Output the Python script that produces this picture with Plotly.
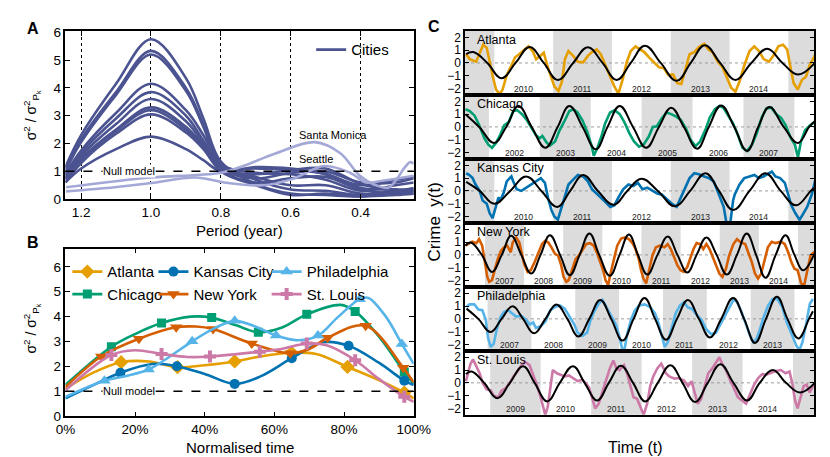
import plotly.graph_objects as go

W, H = 830, 457
FONT = "Liberation Sans, Arial, sans-serif"


def fx(px):
    return px / W


def fy(py):
    return 1 - py / H


# ---------------- Panel A : spectra vs period ----------------
A_PERIOD = [1.245, 1.2, 1.1, 1.0, 0.9, 0.85, 0.8, 0.7, 0.6, 0.5, 0.4, 0.3, 0.248]
A_CITIES = [
    [1.15, 2.3, 4.15, 5.75, 4.35, 2.9, 1.35, 0.55, 0.2, 0.15, 0.1, 0.25, 0.3],
    [1.1, 2.15, 3.85, 5.33, 4.0, 2.7, 1.3, 0.7, 0.35, 0.3, 0.15, 0.3, 0.35],
    [1.0, 2.05, 3.75, 5.2, 3.9, 2.6, 1.2, 0.8, 0.5, 0.5, 0.2, 0.3, 0.4],
    [0.9, 1.75, 3.1, 4.15, 3.2, 2.3, 1.25, 0.95, 0.9, 0.7, 0.3, 0.5, 0.6],
    [0.85, 1.65, 2.9, 3.85, 3.0, 2.1, 1.15, 1.1, 1.05, 0.9, 0.4, 0.35, 0.3],
    [0.8, 1.55, 2.7, 3.6, 2.8, 2.0, 1.1, 0.9, 1.05, 1.1, 0.55, 0.3, 0.25],
    [0.75, 1.45, 2.5, 3.3, 2.6, 1.9, 1.05, 0.6, 0.75, 0.8, 0.35, 0.2, 0.2],
    [0.7, 1.4, 2.45, 3.2, 2.5, 1.85, 1.1, 0.75, 0.95, 1.0, 0.6, 0.6, 0.75],
    [0.6, 1.3, 2.35, 3.05, 2.4, 1.8, 1.0, 0.5, 0.15, 0.2, 0.1, 0.15, 0.2],
    [0.6, 1.1, 1.8, 2.25, 1.8, 1.4, 1.0, 1.15, 1.1, 0.9, 0.5, 0.7, 0.8],
]
SM_P = [1.243, 0.999, 0.868, 0.799, 0.734, 0.642, 0.531, 0.458, 0.403, 0.356, 0.319, 0.273, 0.259, 0.248]
SM_V = [0.43, 0.78, 0.87, 0.95, 1.2, 1.65, 2.05, 1.65, 0.85, 0.5, 0.42, 1.15, 1.33, 1.28]
SE_P = [1.243, 1.103, 0.999, 0.873, 0.790, 0.679, 0.596, 0.504, 0.430, 0.384, 0.338, 0.248]
SE_V = [0.28, 0.43, 0.58, 0.78, 0.6, 0.5, 0.72, 1.19, 0.95, 0.6, 0.66, 0.84]
A_TICKS = [1.2, 1.0, 0.8, 0.6, 0.4]
A_TICKTEXT = ["1.2", "1.0", "0.8", "0.6", "0.4"]

# ---------------- Panel B : normalised time ----------------
ATL_BX = [0, 0.08, 0.16, 0.24, 0.322, 0.4, 0.486, 0.56, 0.649, 0.72, 0.81, 0.9, 0.973, 1.0]
ATL_BY = [1.1, 1.75, 2.17, 2.2, 1.97, 2.05, 2.2, 2.4, 2.55, 2.5, 1.98, 1.45, 0.95, 0.72]
ATL_BM = [2, 4, 6, 8, 10, 12]
CHI_BX = [0, 0.132, 0.2, 0.276, 0.36, 0.42, 0.49, 0.554, 0.62, 0.693, 0.79, 0.832, 0.9, 0.973, 1.0]
CHI_BY = [1.26, 2.79, 3.3, 3.74, 4.0, 3.96, 3.65, 3.37, 3.55, 4.09, 4.47, 4.21, 3.2, 1.78, 1.3]
CHI_BM = [1, 3, 5, 7, 9, 11, 13]
KC_BX = [0, 0.08, 0.158, 0.25, 0.32, 0.4, 0.486, 0.56, 0.65, 0.74, 0.813, 0.9, 0.973, 1.0]
KC_BY = [0.72, 1.25, 1.75, 2.1, 2.01, 1.7, 1.3, 1.6, 2.33, 2.97, 2.83, 2.15, 1.43, 1.25]
KC_BM = [2, 4, 6, 8, 10, 12]
PHI_BX = [0, 0.112, 0.175, 0.239, 0.3, 0.364, 0.43, 0.486, 0.545, 0.605, 0.665, 0.725, 0.78, 0.845, 0.87, 0.92, 0.966, 1.0]
PHI_BY = [0.78, 1.43, 1.62, 1.88, 2.4, 3.01, 3.55, 3.83, 3.6, 3.24, 3.05, 3.24, 3.95, 4.7, 4.75, 4.0, 2.9, 2.1]
PHI_BM = [1, 3, 5, 7, 9, 11, 13, 16]
NY_BX = [0, 0.103, 0.211, 0.318, 0.375, 0.424, 0.535, 0.646, 0.7, 0.753, 0.862, 0.97, 1.0]
NY_BY = [1.17, 2.4, 3.11, 3.57, 3.6, 3.5, 2.92, 2.53, 2.7, 3.15, 3.63, 1.95, 1.36]
NY_BM = [1, 2, 3, 5, 6, 7, 9, 10, 11]
STL_BX = [0, 0.132, 0.2, 0.276, 0.35, 0.415, 0.558, 0.62, 0.693, 0.75, 0.832, 0.9, 0.973, 1.0]
STL_BY = [1.04, 2.46, 2.65, 2.5, 2.38, 2.4, 2.59, 2.7, 2.92, 2.85, 2.25, 1.5, 0.78, 0.58]
STL_BM = [1, 3, 5, 6, 8, 10, 12]
B_TICKS = [0, 0.2, 0.4, 0.6, 0.8, 1.0]
B_TICKTEXT = ["0%", "20%", "40%", "60%", "80%", "100%"]

# ---------------- Panel C : crime time series ----------------
ATL_T = [2009.52, 2009.58, 2009.69, 2009.75, 2009.81, 2009.87, 2009.92, 2009.98, 2010.03, 2010.09, 2010.14, 2010.21, 2010.29, 2010.35, 2010.42, 2010.52, 2010.58, 2010.65, 2010.71, 2010.78, 2010.84, 2010.90, 2010.96, 2011.02, 2011.09, 2011.15, 2011.20, 2011.26, 2011.34, 2011.42, 2011.51, 2011.59, 2011.66, 2011.74, 2011.81, 2011.89, 2011.97, 2012.04, 2012.11, 2012.18, 2012.25, 2012.32, 2012.40, 2012.47, 2012.55, 2012.63, 2012.71, 2012.80, 2012.88, 2012.96, 2013.04, 2013.11, 2013.18, 2013.25, 2013.32, 2013.40, 2013.48, 2013.57, 2013.64, 2013.71, 2013.80, 2013.88, 2013.95, 2014.03, 2014.10, 2014.17, 2014.25, 2014.34, 2014.42, 2014.50, 2014.58, 2014.67, 2014.75, 2014.83, 2014.91, 2014.98, 2015.03, 2015.09, 2015.16, 2015.23, 2015.30, 2015.36, 2015.46]
ATL_Y = [0.68, 0.3, 0.1, 0.8, 1.43, 1.18, 0.05, -1.2, -2.08, -2.45, -2.08, -0.95, -0.2, 0.43, 0.68, 1.05, 1.3, 0.93, 0.3, 0.55, 0.8, -0.2, -1.08, -1.83, -2.2, -1.45, 0.3, 0.93, 0.55, 0.1, 0.05, 0.55, 0.85, 1.05, 0.68, -0.2, -1.2, -1.83, -2.4, -1.33, 0.05, 0.93, 1.3, 1.1, 0.85, 0.43, 0.05, -0.33, -0.4, -0.95, -0.9, -1.58, -1.65, -0.58, 0.68, 0.85, 1.25, 1.5, 1.05, 0.85, 0.1, -0.33, -1.08, -1.95, -2.25, -1.45, -0.2, 0.93, 1.3, 0.93, 0.3, 0.1, 0.6, 1.3, 1.43, 1.05, -0.2, -1.58, -2.08, -1.33, -1.08, -0.2, 0.68]
ATL_FT = [2009.52, 2009.64, 2009.88, 2010.12, 2010.36, 2010.60, 2010.84, 2011.08, 2011.34, 2011.59, 2011.84, 2012.08, 2012.32, 2012.56, 2012.83, 2013.10, 2013.34, 2013.58, 2013.84, 2014.10, 2014.37, 2014.64, 2014.90, 2015.16, 2015.46]
ATL_FY = [0.68, 0.85, 0, -1.2, 0, 1.25, 0, -1.33, 0, 1.23, 0, -1.33, 0, 1.35, 0, -1.4, 0, 1.38, 0, -1.33, 0, 1.1, 0, -0.9, 0.05]
ATL_RANGE = [2009.50, 2015.44]
ATL_YEARS = [2010, 2011, 2012, 2013, 2014]
ATL_SHADE = [2009, 2011, 2013, 2015]

CHI_T = [2001.54, 2001.62, 2001.72, 2001.81, 2001.91, 2001.99, 2002.06, 2002.14, 2002.22, 2002.30, 2002.39, 2002.48, 2002.56, 2002.65, 2002.75, 2002.84, 2002.92, 2003.00, 2003.05, 2003.13, 2003.20, 2003.30, 2003.39, 2003.49, 2003.58, 2003.66, 2003.74, 2003.84, 2003.93, 2004.02, 2004.06, 2004.12, 2004.21, 2004.28, 2004.38, 2004.47, 2004.57, 2004.66, 2004.76, 2004.85, 2004.95, 2005.04, 2005.14, 2005.22, 2005.30, 2005.39, 2005.49, 2005.58, 2005.68, 2005.77, 2005.87, 2005.96, 2006.06, 2006.15, 2006.25, 2006.34, 2006.44, 2006.53, 2006.61, 2006.70, 2006.80, 2006.89, 2006.98, 2007.07, 2007.17, 2007.26, 2007.36, 2007.45, 2007.55, 2007.64, 2007.74, 2007.83, 2007.93, 2008.01, 2008.07, 2008.13, 2008.21, 2008.31, 2008.40]
CHI_Y = [1.38, 1.25, 0.88, 0.13, -0.88, -1.38, -1.63, -1.25, -0.63, 0.13, 0.38, 1.25, 1.3, 1.0, 0.5, -0.13, -0.63, -0.88, -0.7, -1.2, -1.45, -1.13, -0.25, 0.5, 1.25, 1.38, 1.13, 0.5, -0.38, -1.5, -2.25, -1.75, -0.75, 0.25, 1.13, 1.3, 1.0, 0.38, -0.5, -1.13, -1.55, -1.38, -0.75, 0, 0.05, 0.63, 1.13, 1.0, 0.8, 0.55, -0.13, -1.0, -1.5, -1.13, -0.25, 0.75, 1.38, 1.63, 1.5, 0.88, 0.25, -0.63, -1.63, -1.88, -1.38, -0.5, 0.75, 1.45, 1.5, 1.0, 0.7, 0.13, -0.88, -1.38, -2.38, -1.13, -0.25, 0.13, 0.38]
CHI_FT = [2001.54, 2001.81, 2002.10, 2002.34, 2002.58, 2002.84, 2003.11, 2003.35, 2003.58, 2003.84, 2004.10, 2004.33, 2004.57, 2004.83, 2005.09, 2005.34, 2005.58, 2005.83, 2006.09, 2006.32, 2006.56, 2006.82, 2007.07, 2007.29, 2007.51, 2007.79, 2008.07, 2008.29, 2008.40]
CHI_FY = [1.0, 0, -1.25, 0, 1.63, 0, -1.63, 0, 1.63, 0, -1.75, 0, 1.63, 0, -1.63, 0, 1.5, 0, -1.7, 0, 1.68, 0, -1.88, 0, 1.55, 0, -1.25, 0, 0.45]
CHI_RANGE = [2001.53, 2008.39]
CHI_YEARS = [2002, 2003, 2004, 2005, 2006, 2007]
CHI_SHADE = [2001, 2003, 2005, 2007]

KC_T = [2009.52, 2009.57, 2009.63, 2009.68, 2009.75, 2009.80, 2009.87, 2009.92, 2009.97, 2010.02, 2010.07, 2010.10, 2010.16, 2010.21, 2010.29, 2010.32, 2010.38, 2010.46, 2010.54, 2010.63, 2010.71, 2010.79, 2010.86, 2010.91, 2010.97, 2011.02, 2011.08, 2011.13, 2011.19, 2011.26, 2011.34, 2011.42, 2011.51, 2011.59, 2011.66, 2011.74, 2011.81, 2011.89, 2011.97, 2012.04, 2012.11, 2012.19, 2012.28, 2012.36, 2012.44, 2012.52, 2012.60, 2012.69, 2012.77, 2012.85, 2012.93, 2013.02, 2013.10, 2013.17, 2013.24, 2013.32, 2013.40, 2013.48, 2013.57, 2013.65, 2013.73, 2013.81, 2013.90, 2013.95, 2014.01, 2014.06, 2014.09, 2014.17, 2014.25, 2014.34, 2014.42, 2014.50, 2014.58, 2014.67, 2014.72, 2014.78, 2014.86, 2014.94, 2015.00, 2015.05, 2015.12, 2015.19, 2015.24, 2015.32, 2015.40, 2015.46]
KC_Y = [1.38, 1.25, 1.0, 0.5, 0, -0.75, -1.0, -1.75, -2.13, -1.25, -0.5, -0.75, -0.13, 0.75, 1.13, 0.75, 0.13, 0, 0.25, 0.5, 0.75, 1.0, 0.63, -0.5, -1.5, -2.0, -2.25, -1.5, -0.5, 0.5, 0.88, 1.25, 1.13, 0.75, 0.13, -0.25, -0.5, -0.88, -1.25, -1.13, -0.5, 0.13, 0.5, 0.38, 0.63, 0.13, 0.25, 0, -0.2, -0.3, -0.63, -1.0, -1.25, -0.5, 0.25, 1.0, 1.38, 1.3, 1.13, 1.0, 0.75, -0.13, -1.25, -2.6, -2.6, -0.75, -0.25, 0.5, 1.0, 1.13, 1.25, 1.0, 1.13, 1.38, 1.5, 1.13, 1.0, 0.63, -0.25, -1.13, -1.75, -2.25, -1.88, -1.25, -0.25, 0.88]
KC_FT = [2009.52, 2009.75, 2010.00, 2010.27, 2010.54, 2010.80, 2011.07, 2011.29, 2011.51, 2011.76, 2012.03, 2012.26, 2012.50, 2012.78, 2013.07, 2013.33, 2013.59, 2013.82, 2014.06, 2014.34, 2014.61, 2014.87, 2015.13, 2015.38, 2015.46]
KC_FY = [0.7, 0, -1.0, 0, 1.13, 0, -1.25, 0, 1.25, 0, -1.08, 0, 0.95, 0, -1.2, 0, 1.38, 0, -1.5, 0, 1.38, 0, -1.13, 0, 0.3]
KC_RANGE = [2009.50, 2015.44]
KC_YEARS = [2010, 2011, 2012, 2013, 2014]
KC_SHADE = [2009, 2011, 2013, 2015]

NY_T = [2006.50, 2006.60, 2006.68, 2006.78, 2006.85, 2006.93, 2007.00, 2007.06, 2007.11, 2007.18, 2007.26, 2007.33, 2007.41, 2007.49, 2007.57, 2007.66, 2007.71, 2007.80, 2007.88, 2007.94, 2008.00, 2008.09, 2008.17, 2008.27, 2008.37, 2008.46, 2008.54, 2008.62, 2008.70, 2008.79, 2008.87, 2008.95, 2009.01, 2009.08, 2009.14, 2009.22, 2009.32, 2009.40, 2009.50, 2009.59, 2009.69, 2009.78, 2009.86, 2009.94, 2010.02, 2010.08, 2010.15, 2010.21, 2010.30, 2010.38, 2010.48, 2010.58, 2010.68, 2010.77, 2010.85, 2010.93, 2010.99, 2011.05, 2011.12, 2011.20, 2011.28, 2011.37, 2011.47, 2011.59, 2011.67, 2011.75, 2011.84, 2011.92, 2012.00, 2012.08, 2012.17, 2012.25, 2012.33, 2012.41, 2012.50, 2012.58, 2012.66, 2012.74, 2012.83, 2012.91, 2012.99, 2013.07, 2013.16, 2013.24, 2013.35, 2013.44, 2013.54, 2013.65, 2013.73, 2013.82, 2013.90, 2013.98, 2014.06, 2014.15, 2014.23, 2014.33, 2014.43, 2014.56, 2014.66, 2014.75, 2014.83, 2014.91, 2014.99, 2015.08, 2015.16, 2015.24, 2015.32, 2015.42]
NY_Y = [0.72, 0.92, 1.03, 0.92, 1.23, 0.72, -0.56, -1.72, -2.1, -1.97, -1.08, -0.31, 0.33, 0.59, 0.72, 0.2, 0.97, 1.36, 0.97, 0.2, -0.69, -1.33, -1.2, -0.56, 0.2, 0.85, 1.1, 0.97, 0.59, 0.08, -0.05, -0.82, -1.72, -2.1, -1.97, -1.2, -0.31, -0.05, 0.46, 0.85, 0.92, 0.72, 0.2, -0.44, -1.2, -1.97, -2.36, -1.46, -0.31, 0.72, 1.28, 1.36, 1.23, 0.92, 0.46, -0.31, -1.2, -1.85, -2.23, -1.2, -0.05, 0.59, 0.72, 0.59, 0.85, 0.46, -0.18, -0.82, -1.2, -1.33, -0.95, -0.18, 0.46, 0.92, 0.85, 0.46, 0.85, 0.46, -0.18, -0.82, -1.46, -1.72, -1.08, -0.05, 0.85, 1.23, 0.97, 0.85, 0.2, -0.56, -1.46, -1.85, -1.46, -0.31, 0.59, 1.03, 0.92, 1.03, 0.85, 0.2, -0.56, -1.08, -1.2, -2.23, -2.36, -1.2, -0.05, 0.26]
NY_FT = [2006.50, 2006.64, 2006.92, 2007.18, 2007.43, 2007.67, 2007.93, 2008.18, 2008.42, 2008.66, 2008.92, 2009.17, 2009.42, 2009.67, 2009.92, 2010.19, 2010.44, 2010.68, 2010.91, 2011.15, 2011.41, 2011.67, 2011.92, 2012.17, 2012.41, 2012.66, 2012.92, 2013.18, 2013.44, 2013.69, 2013.93, 2014.17, 2014.43, 2014.68, 2014.91, 2015.13, 2015.42]
NY_FY = [0.72, 0.97, 0, -1.33, 0, 1.49, 0, -1.46, 0, 1.54, 0, -1.59, 0, 1.67, 0, -1.64, 0, 1.59, 0, -1.54, 0, 1.44, 0, -1.38, 0, 1.36, 0, -1.54, 0, 1.67, 0, -1.79, 0, 1.54, 0, -1.2, 0.1]
NY_RANGE = [2006.49, 2015.415]
NY_YEARS = [2007, 2008, 2009, 2010, 2011, 2012, 2013, 2014]
NY_SHADE = [2007, 2009, 2011, 2013, 2015]

PHI_T = [2006.52, 2006.59, 2006.70, 2006.79, 2006.88, 2006.96, 2007.01, 2007.07, 2007.14, 2007.21, 2007.30, 2007.38, 2007.47, 2007.57, 2007.65, 2007.77, 2007.88, 2007.96, 2008.04, 2008.10, 2008.21, 2008.32, 2008.43, 2008.54, 2008.65, 2008.76, 2008.87, 2008.98, 2009.05, 2009.16, 2009.27, 2009.35, 2009.43, 2009.53, 2009.62, 2009.71, 2009.82, 2009.93, 2010.01, 2010.07, 2010.12, 2010.19, 2010.27, 2010.36, 2010.46, 2010.58, 2010.71, 2010.82, 2010.90, 2010.98, 2011.04, 2011.11, 2011.20, 2011.29, 2011.39, 2011.48, 2011.57, 2011.66, 2011.77, 2011.88, 2011.99, 2012.10, 2012.21, 2012.32, 2012.43, 2012.54, 2012.62, 2012.69, 2012.79, 2012.88, 2012.99, 2013.06, 2013.13, 2013.21, 2013.30, 2013.40, 2013.50, 2013.61, 2013.72, 2013.83, 2013.94, 2014.04, 2014.11, 2014.18, 2014.27, 2014.35, 2014.42]
PHI_Y = [0.93, 1.13, 1.13, 0.73, 0.68, -0.08, -1.45, -2.2, -1.95, -0.83, 0.18, 0.55, 0.68, 0.43, 0.18, 0.23, -0.08, -0.45, -0.28, -0.7, -0.58, -0.2, 0.68, 0.93, 1.05, 0.8, 0.18, -0.45, -1.08, -1.33, -1.08, -0.08, 0.55, 1.18, 1.48, 0.93, 0.3, -0.45, -1.45, -2.33, -2.45, -1.08, -0.08, 0.68, 1.05, 1.13, 0.93, 0.43, -0.33, -1.45, -2.2, -1.83, -0.58, 0.43, 1.05, 1.3, 0.88, 0.8, 0.3, -0.08, -0.83, -1.2, -1.08, -0.33, 0.3, 1.05, 1.55, 1.3, 0.55, -0.33, -1.33, -1.83, -1.58, -0.83, 0.18, 1.05, 1.55, 1.55, 0.93, -0.33, -1.33, -2.08, -2.45, -1.83, -0.33, 1.18, 1.55]
PHI_FT = [2006.52, 2006.79, 2007.07, 2007.32, 2007.57, 2007.81, 2008.06, 2008.32, 2008.57, 2008.82, 2009.07, 2009.32, 2009.57, 2009.82, 2010.08, 2010.33, 2010.58, 2010.82, 2011.07, 2011.32, 2011.57, 2011.82, 2012.07, 2012.33, 2012.60, 2012.85, 2013.10, 2013.35, 2013.60, 2013.84, 2014.09, 2014.33, 2014.42]
PHI_FY = [0.8, 0, -1.03, 0, 0.98, 0, -1.13, 0, 1.13, 0, -1.38, 0, 1.48, 0, -1.7, 0, 1.63, 0, -1.63, 0, 1.48, 0, -1.45, 0, 1.63, 0, -1.88, 0, 1.73, 0, -1.53, 0, 0.6]
PHI_RANGE = [2006.485, 2014.45]
PHI_YEARS = [2007, 2008, 2009, 2010, 2011, 2012, 2013]
PHI_SHADE = [2007, 2009, 2011, 2013]

STL_T = [2008.52, 2008.56, 2008.61, 2008.66, 2008.72, 2008.79, 2008.85, 2008.93, 2009.01, 2009.07, 2009.16, 2009.22, 2009.30, 2009.39, 2009.46, 2009.54, 2009.62, 2009.69, 2009.78, 2009.84, 2009.92, 2010.00, 2010.05, 2010.09, 2010.14, 2010.19, 2010.24, 2010.32, 2010.39, 2010.48, 2010.56, 2010.64, 2010.73, 2010.82, 2010.89, 2010.96, 2011.03, 2011.08, 2011.15, 2011.22, 2011.31, 2011.37, 2011.44, 2011.50, 2011.56, 2011.65, 2011.71, 2011.77, 2011.84, 2011.91, 2011.98, 2012.04, 2012.11, 2012.17, 2012.23, 2012.31, 2012.39, 2012.48, 2012.55, 2012.65, 2012.74, 2012.84, 2012.92, 2012.99, 2013.05, 2013.11, 2013.18, 2013.24, 2013.32, 2013.40, 2013.48, 2013.54, 2013.61, 2013.67, 2013.75, 2013.83, 2013.91, 2013.99, 2014.07, 2014.15, 2014.23, 2014.31, 2014.39, 2014.47, 2014.56, 2014.66, 2014.76, 2014.85, 2014.93, 2014.99, 2015.04, 2015.09, 2015.15, 2015.21, 2015.27, 2015.33, 2015.43]
STL_Y = [0.13, 0.75, 1.5, 1.83, 1.38, 0.75, 0, -0.5, -0.58, -1.0, -1.13, -0.63, -0.43, 0, 0.5, 0.88, 1.38, 1.63, 1.38, 0.75, -0.13, -1.13, -1.88, -2.5, -1.88, -0.25, 1.0, 0.75, 0.63, 0.5, 0.58, 0.38, 0.13, 0.25, 0, -0.38, -1.38, -2.0, -1.63, -0.75, 0.38, 1.13, 1.75, 1.13, 1.0, 1.38, 0.75, -0.13, -1.13, -1.25, -1.88, -2.5, -1.63, -0.25, 0.5, 1.13, 1.5, 0.75, 0.5, 0.33, 0.38, 0.18, -0.25, 0.13, -0.75, -1.63, -1.25, -0.38, 0.75, 1.13, 1.63, 2.0, 1.38, 1.0, 0.25, -0.38, -1.13, -1.38, -1.63, -0.88, -0.13, 0.38, 0.68, 0.63, 0.75, 0.93, 1.0, 0.75, 0.88, -0.13, -1.38, -2.0, -1.13, -0.25, -0.13, -0.75, 0]
STL_FT = [2008.52, 2008.63, 2008.88, 2009.14, 2009.39, 2009.65, 2009.88, 2010.13, 2010.38, 2010.64, 2010.87, 2011.12, 2011.35, 2011.59, 2011.83, 2012.07, 2012.32, 2012.57, 2012.81, 2013.06, 2013.31, 2013.56, 2013.82, 2014.09, 2014.34, 2014.60, 2014.86, 2015.14, 2015.43]
STL_FY = [0.68, 0.88, 0, -1.2, 0, 1.3, 0, -1.45, 0, 1.3, 0, -1.38, 0, 1.33, 0, -1.45, 0, 1.38, 0, -1.5, 0, 1.45, 0, -1.38, 0, 1.0, 0, -0.75, 0]
STL_RANGE = [2008.50, 2015.42]
STL_YEARS = [2009, 2010, 2011, 2012, 2013, 2014]
STL_SHADE = [2009, 2011, 2013, 2015]

C_TICKS = [-2, -1, 0, 1, 2]
C_TICKTEXT = ["\u22122", "\u22121", "0", "1", "2"]

# colours
DARK = "#4b5391"
LIGHT = "#a3a8d6"
COL = {
    "Atlanta": "#E69F00",
    "Chicago": "#009E73",
    "Kansas City": "#0072B2",
    "New York": "#D55E00",
    "Philadelphia": "#56B4E9",
    "St. Louis": "#CC79A7",
}
SHADE_COL = "#dcdcdc"

fig = go.Figure()

# ---------- Panel A traces ----------
for i, vals in enumerate(A_CITIES):
    fig.add_trace(go.Scatter(
        x=A_PERIOD, y=vals, mode="lines", name="Cities",
        line=dict(color=DARK, width=2.6, shape="spline", smoothing=1.0),
        xaxis="x", yaxis="y", showlegend=(i == 0), legend="legend",
        hoverinfo="skip"))
for px_, pv in [(SM_P, SM_V), (SE_P, SE_V)]:
    fig.add_trace(go.Scatter(
        x=px_, y=pv, mode="lines",
        line=dict(color=LIGHT, width=2.6, shape="spline", smoothing=1.0),
        xaxis="x", yaxis="y", showlegend=False, hoverinfo="skip"))

# ---------- Panel B traces ----------
B_SERIES = [
    ("Atlanta", ATL_BX, ATL_BY, ATL_BM, "diamond", 11, "legend2"),
    ("Chicago", CHI_BX, CHI_BY, CHI_BM, "square", 9, "legend2"),
    ("Kansas City", KC_BX, KC_BY, KC_BM, "circle", 10, "legend3"),
    ("New York", NY_BX, NY_BY, NY_BM, "triangle-down", 11, "legend3"),
    ("Philadelphia", PHI_BX, PHI_BY, PHI_BM, "triangle-up", 11, "legend4"),
    ("St. Louis", STL_BX, STL_BY, STL_BM, "cross", 10, "legend4"),
]
for name, bx, by, bm, sym, sz, leg in B_SERIES:
    c = COL[name]
    fig.add_trace(go.Scatter(
        x=bx, y=by, mode="lines", line=dict(color=c, width=2.6, shape="spline"),
        xaxis="x2", yaxis="y2", showlegend=False, hoverinfo="skip"))
    fig.add_trace(go.Scatter(
        x=[bx[k] for k in bm], y=[by[k] for k in bm], mode="markers",
        marker=dict(color=c, symbol=sym, size=sz, line=dict(width=0)),
        xaxis="x2", yaxis="y2", showlegend=False, hoverinfo="skip"))
    fig.add_trace(go.Scatter(
        x=[None], y=[None], mode="lines+markers", name=name,
        line=dict(color=c, width=2.6),
        marker=dict(color=c, symbol=sym, size=sz, line=dict(width=0)),
        xaxis="x2", yaxis="y2", showlegend=True, legend=leg))

# ---------- Panel C traces ----------
C_PANELS = [
    ("Atlanta", ATL_T, ATL_Y, ATL_FT, ATL_FY, ATL_RANGE, ATL_YEARS, ATL_SHADE),
    ("Chicago", CHI_T, CHI_Y, CHI_FT, CHI_FY, CHI_RANGE, CHI_YEARS, CHI_SHADE),
    ("Kansas City", KC_T, KC_Y, KC_FT, KC_FY, KC_RANGE, KC_YEARS, KC_SHADE),
    ("New York", NY_T, NY_Y, NY_FT, NY_FY, NY_RANGE, NY_YEARS, NY_SHADE),
    ("Philadelphia", PHI_T, PHI_Y, PHI_FT, PHI_FY, PHI_RANGE, PHI_YEARS, PHI_SHADE),
    ("St. Louis", STL_T, STL_Y, STL_FT, STL_FY, STL_RANGE, STL_YEARS, STL_SHADE),
]

shapes = []
annotations = []

axis_common = dict(showline=True, linecolor="black", linewidth=1.5, zeroline=False,
                   showgrid=False, tickcolor="black", tickfont=dict(family=FONT, size=13.5, color="black"))

layout_axes = {}
layout_axes["xaxis"] = dict(axis_common, domain=[fx(49), fx(409)], range=[1.245, 0.248],
                            anchor="y", tickvals=A_TICKS, ticktext=A_TICKTEXT, ticks="inside",
                            ticklen=5, mirror="ticks", showgrid=True, gridcolor="black",
                            griddash="dot", gridwidth=1)
layout_axes["yaxis"] = dict(axis_common, domain=[fy(191), fy(18)], range=[0, 6.03], anchor="x",
                            tickvals=[0, 1, 2, 3, 4, 5, 6], ticks="inside", ticklen=5, mirror="ticks")
layout_axes["xaxis2"] = dict(axis_common, domain=[fx(49), fx(409)], range=[0, 1], anchor="y2",
                             tickvals=B_TICKS, ticktext=B_TICKTEXT, ticks="inside", ticklen=5,
                             mirror="ticks")
layout_axes["yaxis2"] = dict(axis_common, domain=[fy(415), fy(242)], range=[0, 6.73], anchor="x2",
                             tickvals=[0, 1, 2, 3, 4, 5, 6], ticks="inside", ticklen=5, mirror="ticks")

for i, (name, t, y, ft, fyv, rng, years, shade) in enumerate(C_PANELS):
    n = i + 3
    xa, ya = f"x{n}", f"y{n}"
    top = 17.5 + 66 * i
    bot = top + 66
    layout_axes[f"xaxis{n}"] = dict(axis_common, domain=[fx(462), fx(823)], range=rng,
                                    anchor=ya, showticklabels=False, ticks="", mirror=True)
    layout_axes[f"yaxis{n}"] = dict(axis_common, domain=[fy(bot), fy(top)], range=[-2.5, 2.5],
                                    anchor=xa, tickvals=C_TICKS, ticktext=C_TICKTEXT,
                                    ticks="inside", ticklen=4, mirror="ticks",
                                    tickfont=dict(family=FONT, size=12, color="black"))
    for yr in shade:
        x0, x1 = max(yr, rng[0]), min(yr + 1, rng[1])
        shapes.append(dict(type="rect", xref=xa, yref=f"{ya} domain", x0=x0, x1=x1, y0=0, y1=1,
                           fillcolor=SHADE_COL, line=dict(width=0), layer="below"))
    shapes.append(dict(type="line", xref=f"{xa} domain", yref=ya, x0=0, x1=1, y0=0, y1=0,
                       line=dict(color="#9a9a9a", width=1, dash="dot"), layer="below"))
    fig.add_trace(go.Scatter(x=t, y=y, mode="lines", line=dict(color=COL[name], width=2.6),
                             xaxis=xa, yaxis=ya, showlegend=False, hoverinfo="skip"))
    fig.add_trace(go.Scatter(x=ft, y=fyv, mode="lines",
                             line=dict(color="black", width=2.0, shape="spline", smoothing=1.2),
                             xaxis=xa, yaxis=ya, showlegend=False, hoverinfo="skip"))
    for yr in years:
        annotations.append(dict(x=yr + 0.5, y=-2.02, xref=xa, yref=ya, text=str(yr),
                                showarrow=False, font=dict(family=FONT, size=8.5, color="#222"),
                                xanchor="center", yanchor="middle"))
    annotations.append(dict(x=0.03, y=1.82, xref=f"{xa} domain", yref=ya, text=name,
                            xanchor="left", yanchor="middle", showarrow=False,
                            font=dict(family=FONT, size=12.5, color="black")))

# reference lines (null model)
shapes.append(dict(type="line", xref="x domain", yref="y", x0=0, x1=1, y0=1, y1=1,
                   line=dict(color="black", width=1.5, dash="dash"), layer="above"))
shapes.append(dict(type="line", xref="x2 domain", yref="y2", x0=0, x1=1, y0=1, y1=1,
                   line=dict(color="black", width=1.5, dash="dash"), layer="above"))


def txt(x, y, s, size, **kw):
    d = dict(x=fx(x), y=fy(y), xref="paper", yref="paper", text=s, showarrow=False,
             xanchor="center", yanchor="middle",
             font=dict(family=FONT, size=size, color="black"))
    d.update(kw)
    annotations.append(d)


annotations.append(dict(x=1.062, y=1, xref="x", yref="y", text="Null model", showarrow=False,
                        xanchor="center", yanchor="middle",
                        bgcolor="white", borderpad=0, font=dict(family=FONT, size=11, color="black")))
annotations.append(dict(x=0.182, y=1, xref="x2", yref="y2", text="Null model", showarrow=False,
                        xanchor="center", yanchor="middle",
                        bgcolor="white", borderpad=0, font=dict(family=FONT, size=11, color="black")))
annotations.append(dict(x=0.583, y=2.3, xref="x", yref="y", text="Santa Monica", showarrow=False,
                        xanchor="left", yanchor="middle", font=dict(family=FONT, size=11, color="black")))
annotations.append(dict(x=0.583, y=1.46, xref="x", yref="y", text="Seattle", showarrow=False,
                        xanchor="left", yanchor="middle", font=dict(family=FONT, size=11, color="black")))

YT = "σ<sup>2</sup> / σ<sup>2</sup><sub>P<sub>k</sub></sub>"
txt(14, 105, YT, 14, textangle=-90)
txt(14, 325, YT, 14, textangle=-90)
txt(229, 223, "Period (year)", 15)
txt(229, 447, "Normalised time", 15)
txt(430, 215, "Crime\u00a0\u00a0y(t)", 17, textangle=-90)
txt(638, 447, "Time (t)", 16)
txt(16, 15, "<b>A</b>", 16)
txt(15, 236, "<b>B</b>", 16)
txt(430, 13, "<b>C</b>", 16)

leg_common = dict(font=dict(family=FONT, size=15, color="black"), bgcolor="rgba(0,0,0,0)",
                  borderwidth=0, xanchor="left", yanchor="top", itemwidth=30,
                  orientation="v", tracegroupgap=0)

fig.update_layout(
    width=W, height=H, margin=dict(l=0, r=0, t=0, b=0),
    paper_bgcolor="white", plot_bgcolor="white",
    font=dict(family=FONT, color="black"),
    shapes=shapes, annotations=annotations,
    legend=dict(leg_common, x=fx(303), y=fy(20)),
    legend2=dict(leg_common, x=fx(51), y=fy(249)),
    legend3=dict(leg_common, x=fx(140), y=fy(249)),
    legend4=dict(leg_common, x=fx(257), y=fy(249)),
    **layout_axes,
)

fig.write_html("out.html")
